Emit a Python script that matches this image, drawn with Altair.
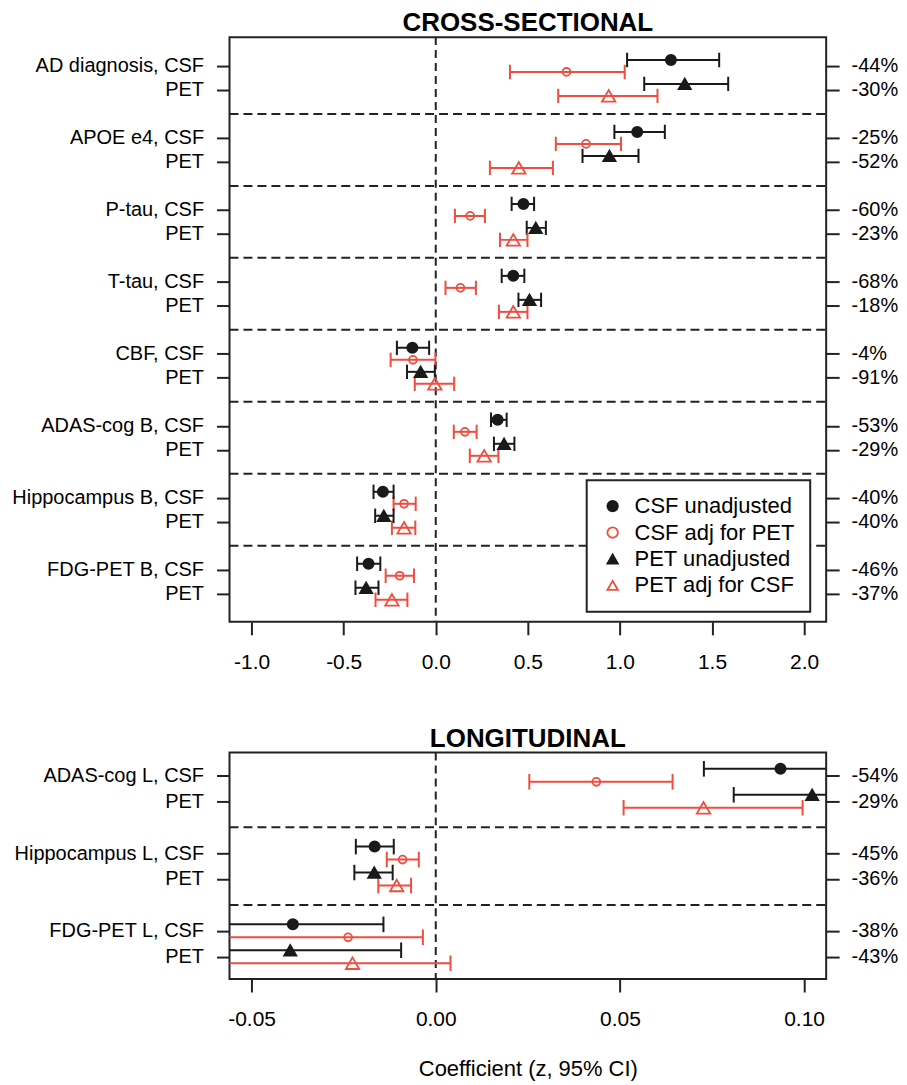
import json
import altair as alt
import pandas as pd

FONT = "Liberation Sans"
BLACK = "#1a1a1a"
RED = "#ee4d40"

SERIES = ["CSF unadjusted", "CSF adj for PET", "PET unadjusted", "PET adj for CSF"]

# ---------------- CROSS-SECTIONAL ----------------
cs_groups = ["AD diagnosis", "APOE e4", "P-tau", "T-tau", "CBF",
             "ADAS-cog B", "Hippocampus B", "FDG-PET B"]
cs_csf_unadj = [1.277, 1.094, 0.476, 0.421, -0.127, 0.336, -0.287, -0.365]
cs_csf_unadj_lo = [1.039, 0.970, 0.412, 0.358, -0.211, 0.300, -0.338, -0.427]
cs_csf_unadj_hi = [1.539, 1.244, 0.534, 0.481, -0.036, 0.385, -0.229, -0.301]
cs_csf_adj = [0.710, 0.816, 0.187, 0.134, -0.124, 0.158, -0.172, -0.196]
cs_csf_adj_lo = [0.403, 0.652, 0.104, 0.053, -0.245, 0.098, -0.229, -0.272]
cs_csf_adj_hi = [1.026, 1.006, 0.267, 0.218, -0.002, 0.222, -0.109, -0.118]
cs_pet_unadj = [1.352, 0.943, 0.543, 0.509, -0.082, 0.371, -0.282, -0.378]
cs_pet_unadj_lo = [1.132, 0.797, 0.494, 0.449, -0.156, 0.316, -0.329, -0.436]
cs_pet_unadj_hi = [1.588, 1.101, 0.598, 0.572, -0.005, 0.427, -0.229, -0.311]
cs_pet_adj = [0.939, 0.451, 0.421, 0.421, -0.005, 0.263, -0.172, -0.238]
cs_pet_adj_lo = [0.665, 0.294, 0.349, 0.343, -0.114, 0.185, -0.238, -0.327]
cs_pet_adj_hi = [1.204, 0.636, 0.498, 0.498, 0.100, 0.340, -0.111, -0.154]
cs_csf_pct = ["-44%", "-25%", "-60%", "-68%", "-4%", "-53%", "-40%", "-46%"]
cs_pet_pct = ["-30%", "-52%", "-23%", "-18%", "-91%", "-29%", "-40%", "-37%"]
cs_x_ticks = [-1.0, -0.5, 0.0, 0.5, 1.0, 1.5, 2.0]

# ---------------- LONGITUDINAL ----------------
lg_groups = ["ADAS-cog L", "Hippocampus L", "FDG-PET L"]
lg_csf_unadj = [0.0936, -0.0166, -0.0388]
lg_csf_unadj_lo = [0.0728, -0.0217, -0.0634]
lg_csf_unadj_hi = [0.1144, -0.0114, -0.0142]
lg_csf_adj = [0.0436, -0.0090, -0.0238]
lg_csf_adj_lo = [0.0254, -0.0133, -0.0600]
lg_csf_adj_hi = [0.0643, -0.0046, -0.0035]
lg_pet_unadj = [0.1022, -0.0167, -0.0395]
lg_pet_unadj_lo = [0.0809, -0.0221, -0.0696]
lg_pet_unadj_hi = [0.1235, -0.0117, -0.0094]
lg_pet_adj = [0.0727, -0.0106, -0.0226]
lg_pet_adj_lo = [0.0510, -0.0156, -0.0600]
lg_pet_adj_hi = [0.0996, -0.0067, 0.0040]
lg_csf_pct = ["-54%", "-45%", "-38%"]
lg_pet_pct = ["-29%", "-36%", "-43%"]
lg_x_ticks = [-0.05, 0.0, 0.05, 0.10]

W = 598
MINUS = "\u2212"


def build(groups, arrays):
    rows = []
    for i in range(len(groups)):
        for s, (est, lo, hi) in zip(SERIES, arrays):
            base = 3 * i + (0 if s.startswith("CSF") else 1)
            off = -0.25 if "unadjusted" in s else 0.25
            rows.append(dict(series=s, y=base + off, est=est[i], lo=lo[i], hi=hi[i]))
    return pd.DataFrame(rows)


def panel(title, groups, arrays, csf_pct, pet_pct, x_ticks, xdom, ydom, height,
          fmt, with_legend, xtitle):
    df = build(groups, arrays)
    n = len(groups)
    row_vals = []
    left_lab = [""] * (3 * n)
    right_lab = [""] * (3 * n)
    for i, g in enumerate(groups):
        row_vals += [3 * i, 3 * i + 1]
        left_lab[3 * i] = f"{g}, CSF"
        left_lab[3 * i + 1] = "PET"
        right_lab[3 * i] = csf_pct[i]
        right_lab[3 * i + 1] = pet_pct[i]
    seps = pd.DataFrame({"y": [3 * i + 2 for i in range(n - 1)]})
    rows_df = pd.DataFrame({"row": row_vals})

    xs = alt.Scale(domain=xdom, nice=False, zero=False)
    ys = alt.Scale(domain=ydom, reverse=True, nice=False, zero=False)
    stroke_scale = alt.Scale(domain=SERIES, range=[BLACK, RED, BLACK, RED])
    fill_scale = alt.Scale(domain=SERIES, range=[BLACK, "transparent", BLACK, "transparent"])
    shape_scale = alt.Scale(domain=SERIES, range=["circle", "circle", "triangle-up", "triangle-up"])

    if with_legend:
        leg = alt.Legend(title=None, orient="none", legendX=358, legendY=444,
                         padding=15, strokeColor="#222", fillColor="white",
                         labelFontSize=22, labelFont=FONT, labelColor="black",
                         symbolSize=110, symbolStrokeWidth=1.8, rowPadding=4.5,
                         labelOffset=11, labelLimit=300)
    else:
        leg = None

    x_axis = alt.Axis(values=x_ticks,
                      labelExpr=f"replace(format(datum.value, '{fmt}'), '{MINUS}', '-')",
                      tickSize=13, tickWidth=2, tickColor="#222", labelPadding=17,
                      labelFontSize=21, labelFont=FONT, labelColor="black",
                      domain=False, grid=False,
                      title=xtitle, titleFontSize=22, titleFont=FONT,
                      titleFontWeight="normal", titleColor="black", titlePadding=29)
    left_axis = alt.Axis(values=row_vals, labelExpr=f"{json.dumps(left_lab)}[datum.value]",
                         orient="left", tickSize=13, tickWidth=2, tickColor="#222",
                         labelPadding=13, labelFontSize=20, labelFont=FONT,
                         labelColor="black", domain=False, grid=False, title=None,
                         labelLimit=400)
    right_axis = alt.Axis(values=row_vals, labelExpr=f"{json.dumps(right_lab)}[datum.value]",
                          orient="right", tickSize=13, tickWidth=2, tickColor="#222",
                          labelPadding=12, labelFontSize=20, labelFont=FONT,
                          labelColor="black", domain=False, grid=False, title=None)

    stroke_enc = alt.Stroke("series:N", scale=stroke_scale, legend=leg)

    sep_layer = alt.Chart(seps).mark_rule(strokeDash=[9, 5], strokeWidth=2, color="#222").encode(
        y=alt.Y("y:Q", scale=ys, axis=None), x=alt.value(0), x2=alt.value(W))
    zero_layer = alt.Chart(pd.DataFrame({"x": [0.0]})).mark_rule(
        strokeDash=[8, 5], strokeWidth=2, color="#222").encode(
        x=alt.X("x:Q", scale=xs, axis=x_axis))
    bars = alt.Chart(df).mark_rule(strokeWidth=2, clip=True).encode(
        x=alt.X("lo:Q", scale=xs, axis=x_axis), x2="hi:Q",
        y=alt.Y("y:Q", scale=ys, axis=None),
        stroke=stroke_enc)
    caps_base = alt.Chart(df).transform_calculate(
        ytop="datum.y - 0.3", ybot="datum.y + 0.3")
    cap_lo = caps_base.mark_rule(strokeWidth=2, clip=True).encode(
        x=alt.X("lo:Q", scale=xs, axis=x_axis),
        y=alt.Y("ytop:Q", scale=ys, axis=None), y2="ybot:Q", stroke=stroke_enc)
    cap_hi = caps_base.mark_rule(strokeWidth=2, clip=True).encode(
        x=alt.X("hi:Q", scale=xs, axis=x_axis),
        y=alt.Y("ytop:Q", scale=ys, axis=None), y2="ybot:Q", stroke=stroke_enc)
    size_enc = alt.value(105, condition=[
        {"test": "datum.series === 'CSF adj for PET'", "value": 62},
        {"test": "datum.series === 'PET unadjusted'", "value": 150},
        {"test": "datum.series === 'PET adj for CSF'", "value": 180},
    ])
    points = alt.Chart(df).mark_point(strokeWidth=1.8, opacity=1).encode(
        x=alt.X("est:Q", scale=xs, axis=x_axis),
        y=alt.Y("y:Q", scale=ys, axis=left_axis),
        stroke=stroke_enc,
        fill=alt.Fill("series:N", scale=fill_scale, legend=leg),
        shape=alt.Shape("series:N", scale=shape_scale, legend=leg),
        size=size_enc,
    )
    right_layer = alt.Chart(rows_df).mark_point(opacity=0).encode(
        y=alt.Y("row:Q", scale=ys, axis=right_axis))

    return alt.layer(sep_layer, zero_layer, bars, cap_lo, cap_hi, points, right_layer).resolve_axis(
        y="independent").properties(
        width=W, height=height,
        title=alt.TitleParams(title, fontSize=26, fontWeight="bold", font=FONT,
                              anchor="middle", frame="group", color="black", offset=0))


top = panel("CROSS-SECTIONAL", cs_groups,
            [(cs_csf_unadj, cs_csf_unadj_lo, cs_csf_unadj_hi),
             (cs_csf_adj, cs_csf_adj_lo, cs_csf_adj_hi),
             (cs_pet_unadj, cs_pet_unadj_lo, cs_pet_unadj_hi),
             (cs_pet_adj, cs_pet_adj_lo, cs_pet_adj_hi)],
            cs_csf_pct, cs_pet_pct, cs_x_ticks, [-1.12, 2.12], [-1.2, 23.17], 586,
            ".1f", True, None)

bottom = panel("LONGITUDINAL", lg_groups,
               [(lg_csf_unadj, lg_csf_unadj_lo, lg_csf_unadj_hi),
                (lg_csf_adj, lg_csf_adj_lo, lg_csf_adj_hi),
                (lg_pet_unadj, lg_pet_unadj_lo, lg_pet_unadj_hi),
                (lg_pet_adj, lg_pet_adj_lo, lg_pet_adj_hi)],
               lg_csf_pct, lg_pet_pct, lg_x_ticks, [-0.056, 0.106], [-0.88, 7.86], 227,
               ".2f", False, "Coefficient (z, 95% CI)")

chart = alt.vconcat(top, bottom, spacing=131, bounds="flush").resolve_scale(
    x="independent", y="independent", stroke="independent", fill="independent",
    shape="independent").properties(
    padding={"left": 2, "top": 0, "right": 0, "bottom": 0}).configure_view(
    stroke="#222", strokeWidth=2).configure_legend(strokeWidth=2)

chart.save("out.html", embed_options={"renderer": "svg", "actions": False})
